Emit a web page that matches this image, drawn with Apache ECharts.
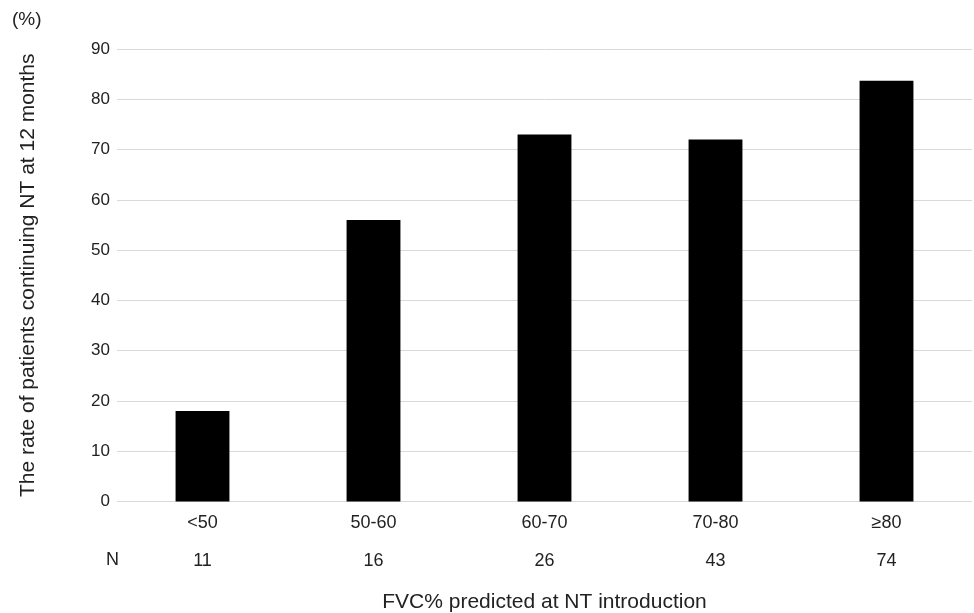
<!DOCTYPE html>
<html>
<head>
<meta charset="utf-8">
<script src="https://cdn.jsdelivr.net/npm/echarts@6/dist/echarts.min.js"></script>
<style>html,body{margin:0;padding:0;background:#fff}#c{width:974px;height:613px}</style>
</head>
<body>
<div id="c"></div>
<script>
const categories = ['<50', '50-60', '60-70', '70-80', '≥80'];
const nCounts = ['11', '16', '26', '43', '74'];
const rates = [18, 56, 73, 72, 83.7];
const yTicks = {min: 0, max: 90, interval: 10};

const font = 'Liberation Sans, Arial, sans-serif';
const txt = '#222';
const chart = echarts.init(document.getElementById('c'));
chart.setOption({
  animation: false,
  grid: {left: 117, right: 2, top: 49, bottom: 111.5, containLabel: false, outerBoundsMode: 'none'},
  graphic: [
    {type: 'text', left: 12, top: 10, style: {text: '(%)', font: '19px ' + font, fill: txt}},
    {type: 'text', left: 106, top: 551, style: {text: 'N', font: '18px ' + font, fill: txt}}
  ],
  xAxis: [
    {
      type: 'category', data: categories, gridIndex: 0, position: 'bottom',
      axisLine: {show: false}, axisTick: {show: false},
      axisLabel: {color: txt, fontFamily: font, fontSize: 18, margin: 13}
    },
    {
      type: 'category', data: nCounts, gridIndex: 0, position: 'bottom', offset: 38,
      axisLine: {show: false}, axisTick: {show: false},
      axisLabel: {color: txt, fontFamily: font, fontSize: 18, margin: 13},
      name: 'FVC% predicted at NT introduction', nameLocation: 'middle', nameGap: 52,
      nameTextStyle: {color: txt, fontFamily: font, fontSize: 21}
    }
  ],
  yAxis: {
    type: 'value', min: yTicks.min, max: yTicks.max, interval: yTicks.interval,
    axisLine: {show: false}, axisTick: {show: false},
    axisLabel: {color: txt, fontFamily: font, fontSize: 17, margin: 7},
    splitLine: {lineStyle: {color: '#d9d9d9', width: 1}},
    name: 'The rate of patients continuing NT at 12 months', nameLocation: 'middle', nameGap: 78,
    nameRotate: 90,
    nameTextStyle: {color: txt, fontFamily: font, fontSize: 21}
  },
  series: [{
    type: 'bar', data: rates, xAxisIndex: 0, barWidth: '31.5%',
    itemStyle: {color: '#000'}
  }]
});
</script>
</body>
</html>
